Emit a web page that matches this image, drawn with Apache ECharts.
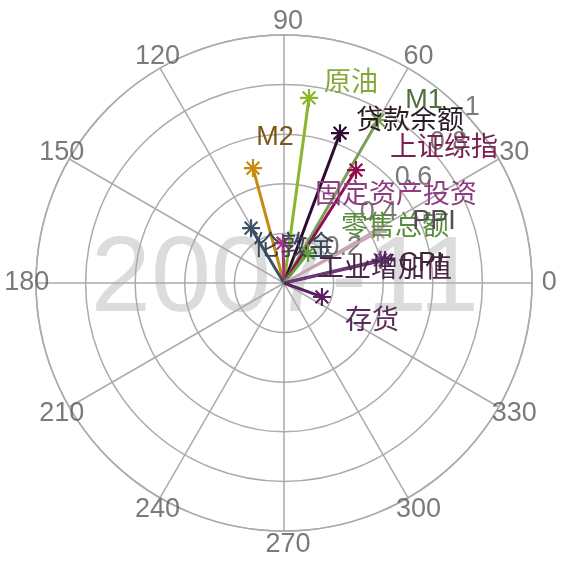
<!DOCTYPE html>
<html>
<head>
<meta charset="utf-8">
<script src="https://cdn.jsdelivr.net/npm/echarts@6/dist/echarts.min.js"></script>
<style>html,body{margin:0;padding:0;background:#fff;}#c{width:564px;height:561px;}</style>
</head>
<body>
<div id="c"></div>
<script>
// ---- data ----
const names = ['原油','贷款余额','M1','上证综指','M2','固定资产投资','伦敦金','零售总额','PPI','CPI','工业增加值','存货'];
const angles = [82.3, 69.5, 60.0, 57.5, 105.1, 91.4, 121.0, 51.3, 28.5, 12.8, 13.5, 339.8];
const radii  = [0.753, 0.645, 0.758, 0.540, 0.480, 0.161, 0.258, 0.155, 0.431, 0.418, 0.400, 0.163];
const angleTicks = [0,30,60,90,120,150,180,210,240,270,300,330];
const angleTickLabels = ['0','30','60','90','120','150','180','210','240','270','300','330'];
const radiusTicks = [0.2,0.4,0.6,0.8,1];
const radiusTickLabels = ['0.2','0.4','0.6','0.8','1'];
const periodLabel = '2007-11';

// ---- styles ----
const lineColors  = ['#8BB52A','#2F0C2F','#7C9C5C','#8E0E4E','#C88A0E','#A8327E','#3C5164','#5FA23A','#C9A3B6','#5C2C6C','#6A3A78','#5E1F60'];
const labelColors = ['#86A83A','#2A1A26','#4F6E3C','#7A2050','#7E5614','#8E3E80','#3A4754','#5A8C3E','#5A4A58','#3A2838','#4A2646','#5A2A5A'];
const labelOffsets = [[42,-14],[70,-12],[46,-20],[88,-22],[22,-31],[113,-48],[43,19],[87,-25],[56,-10],[36,4],[4,10],[50,25]];
const STAR = 'path://M0 44 L100 44 L100 56 L0 56 Z M44 0 L56 0 L56 100 L44 100 Z M18.8 10.4 L89.6 81.2 L81.2 89.6 L10.4 18.8 Z M81.2 10.4 L89.6 18.8 L18.8 89.6 L10.4 81.2 Z';
const FONT = '"Liberation Sans", "Noto Sans CJK SC", sans-serif';
const GRID = '#ABABAB';

const chart = echarts.init(document.getElementById('c'), null, {renderer:'canvas'});

const dataSeries = names.map((n, i) => ({
  type: 'line',
  coordinateSystem: 'polar',
  name: n,
  z: 3,
  symbol: STAR,
  symbolSize: 18,
  lineStyle: {color: lineColors[i], width: 3},
  itemStyle: {color: lineColors[i]},
  label: {
    show: true, position: 'inside', offset: labelOffsets[i],
    formatter: () => n, color: labelColors[i], fontSize: 27, fontFamily: FONT
  },
  data: [
    {value: [0, angles[i]], symbol: 'none', label: {show: false}},
    {value: [radii[i], angles[i]]}
  ]
}));

chart.setOption({
  animation: false,
  polar: {center: [284, 283], radius: 248},
  angleAxis: {
    type: 'value', min: 0, max: 360, interval: 30, startAngle: 0, clockwise: false,
    axisLine: {show: true, lineStyle: {color: GRID, width: 1.5}},
    axisTick: {show: false},
    axisLabel: {show: false},
    splitLine: {show: true, lineStyle: {color: GRID, width: 1.5}}
  },
  radiusAxis: {
    type: 'value', min: 0, max: 1, interval: 0.2,
    axisLine: {show: false}, axisTick: {show: false}, axisLabel: {show: false},
    splitLine: {show: true, lineStyle: {color: GRID, width: 1.5}}
  },
  graphic: [{
    type: 'text', x: 285, y: 281, z: -10,
    style: {text: periodLabel, fontSize: 108, fontFamily: '"Liberation Sans", sans-serif', fill: '#DCDCDC', align: 'center', verticalAlign: 'middle'}
  }],
  series: [
    {
      type: 'scatter', coordinateSystem: 'polar', clip: false, silent: true, z: 1,
      symbolSize: 1, itemStyle: {color: 'transparent'},
      data: angleTicks.map(a => [1.053, a]),
      label: {show: true, position: 'inside', offset: [4, 0], formatter: p => angleTickLabels[p.dataIndex],
        fontSize: 27, color: '#595959', fontFamily: FONT}
    },
    {
      type: 'scatter', coordinateSystem: 'polar', clip: false, silent: true, z: 1,
      symbolSize: 1, itemStyle: {color: 'transparent'},
      data: radiusTicks.map(r => [r, 45]),
      label: {show: true, position: 'right', distance: 5, formatter: p => radiusTickLabels[p.dataIndex],
        fontSize: 27, color: '#595959', fontFamily: FONT}
    }
  ].concat(dataSeries)
});
</script>
</body>
</html>
